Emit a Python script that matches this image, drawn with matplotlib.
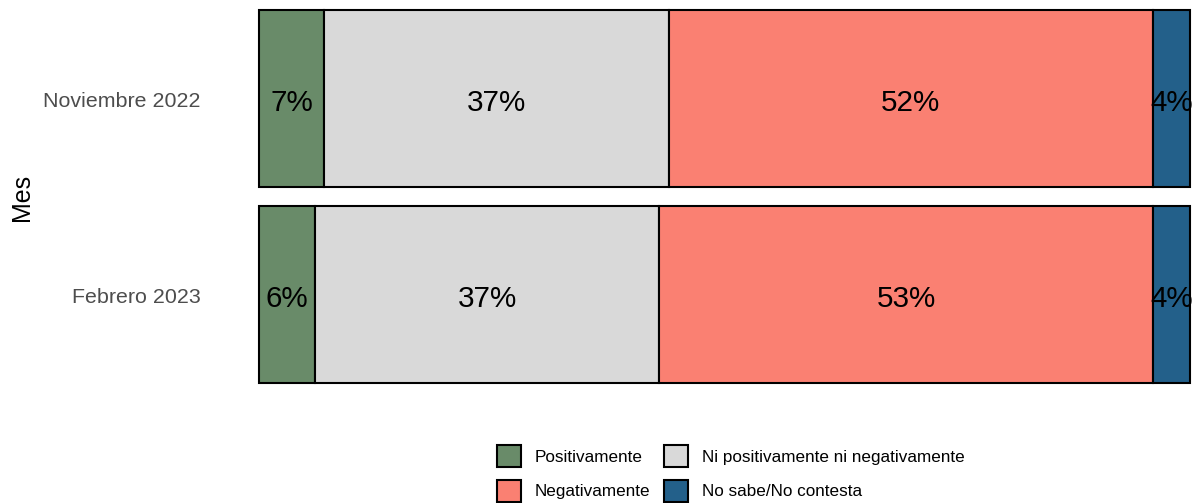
import matplotlib
matplotlib.use("Agg")
import matplotlib.pyplot as plt
from matplotlib.patches import Patch
from matplotlib.transforms import ScaledTranslation

plt.rcParams['font.family'] = ['Liberation Sans', 'DejaVu Sans']

months = ["Febrero 2023", "Noviembre 2022"]
categories = ["Positivamente", "Ni positivamente ni negativamente",
              "Negativamente", "No sabe/No contesta"]
values = {
    "Positivamente": [6, 7],
    "Ni positivamente ni negativamente": [37, 37],
    "Negativamente": [53, 52],
    "No sabe/No contesta": [4, 4],
}
colors = {
    "Positivamente": "#698B69",
    "Ni positivamente ni negativamente": "#D9D9D9",
    "Negativamente": "#FA8072",
    "No sabe/No contesta": "#23608A",
}

W, H = 1194, 503
fig = plt.figure(figsize=(W / 100, H / 100), dpi=100)
ax = fig.add_axes([259 / W, 1 - 383 / H, (1190 - 259) / W, (383 - 10) / H])

ypos = list(range(len(months)))
lefts = [0] * len(months)
for cat in categories:
    vals = values[cat]
    ax.barh(ypos, vals, left=lefts, height=0.9, color=colors[cat],
            edgecolor="black", linewidth=1.5, clip_on=False)
    for y, v, l in zip(ypos, vals, lefts):
        ax.annotate(f"{v}%", xy=(l + v / 2, y), xytext=(0, -9.0),
                    textcoords="offset points", ha="center", va="baseline",
                    fontsize=21.3, color="black")
    lefts = [l + v for l, v in zip(lefts, vals)]

ax.set_xlim(0, 100)
ax.set_ylim(-0.45, 1.45)
ax.set_yticks(ypos)
ax.set_yticklabels(months, fontsize=15.4, color="#4D4D4D")
ax.tick_params(axis="y", length=0, pad=42)
off = ScaledTranslation(0, -8.2 / 100, fig.dpi_scale_trans)
for lab in ax.get_yticklabels():
    lab.set_va("baseline")
    lab.set_transform(lab.get_transform() + off)
ax.set_xticks([])
for s in ax.spines.values():
    s.set_visible(False)

fig.text(22.5 / W, 1 - 197 / H, "Mes", rotation=90, ha="center", va="center",
         fontsize=18, color="black")

order = ["Positivamente", "Negativamente",
         "Ni positivamente ni negativamente", "No sabe/No contesta"]
handles = [Patch(facecolor=colors[c], edgecolor="black", linewidth=1.5, label=c)
           for c in order]
fig.legend(handles=handles, ncol=2, loc="center", bbox_to_anchor=(731 / W, 1 - 473.5 / H),
           frameon=False, fontsize=12.3, handlelength=1.4, handleheight=1.6,
           handletextpad=0.8, columnspacing=0.8, labelspacing=0.75,
           borderpad=0, borderaxespad=0)

fig.savefig("out.png", dpi=100)
